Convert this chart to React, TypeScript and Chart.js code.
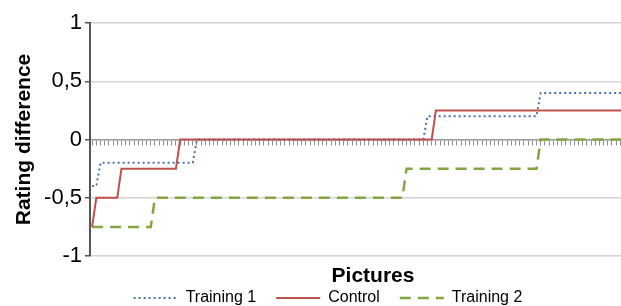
import { useEffect, useRef } from 'react';
import { Chart, registerables } from 'chart.js';

Chart.register(...registerables);

const FONT = "'Liberation Sans', Arial, Helvetica, sans-serif";

// 135 pictures on the category axis
const pictures: string[] = Array.from({ length: 135 }, (_, i) => String(i + 1));

const training1: number[] = [
  -0.4, -0.4, -0.2, -0.2, -0.2, -0.2, -0.2, -0.2, -0.2, -0.2,
  -0.2, -0.2, -0.2, -0.2, -0.2, -0.2, -0.2, -0.2, -0.2, -0.2,
  -0.2, -0.2, -0.2, -0.2, -0.2, 0, 0, 0, 0, 0,
  0, 0, 0, 0, 0, 0, 0, 0, 0, 0,
  0, 0, 0, 0, 0, 0, 0, 0, 0, 0,
  0, 0, 0, 0, 0, 0, 0, 0, 0, 0,
  0, 0, 0, 0, 0, 0, 0, 0, 0, 0,
  0, 0, 0, 0, 0, 0, 0, 0, 0, 0,
  0.2, 0.2, 0.2, 0.2, 0.2, 0.2, 0.2, 0.2, 0.2, 0.2,
  0.2, 0.2, 0.2, 0.2, 0.2, 0.2, 0.2, 0.2, 0.2, 0.2,
  0.2, 0.2, 0.2, 0.2, 0.2, 0.2, 0.2, 0.4, 0.4, 0.4,
  0.4, 0.4, 0.4, 0.4, 0.4, 0.4, 0.4, 0.4, 0.4, 0.4,
  0.4, 0.4, 0.4, 0.4, 0.4, 0.4, 0.4, 0.4, 0.4, 0.4,
  0.4, 0.4, 0.4, 0.4, 0.4,
];

const control: number[] = [
  -0.75, -0.5, -0.5, -0.5, -0.5, -0.5, -0.5, -0.25, -0.25, -0.25,
  -0.25, -0.25, -0.25, -0.25, -0.25, -0.25, -0.25, -0.25, -0.25, -0.25,
  -0.25, 0, 0, 0, 0, 0, 0, 0, 0, 0,
  0, 0, 0, 0, 0, 0, 0, 0, 0, 0,
  0, 0, 0, 0, 0, 0, 0, 0, 0, 0,
  0, 0, 0, 0, 0, 0, 0, 0, 0, 0,
  0, 0, 0, 0, 0, 0, 0, 0, 0, 0,
  0, 0, 0, 0, 0, 0, 0, 0, 0, 0,
  0, 0, 0.25, 0.25, 0.25, 0.25, 0.25, 0.25, 0.25, 0.25,
  0.25, 0.25, 0.25, 0.25, 0.25, 0.25, 0.25, 0.25, 0.25, 0.25,
  0.25, 0.25, 0.25, 0.25, 0.25, 0.25, 0.25, 0.25, 0.25, 0.25,
  0.25, 0.25, 0.25, 0.25, 0.25, 0.25, 0.25, 0.25, 0.25, 0.25,
  0.25, 0.25, 0.25, 0.25, 0.25, 0.25, 0.25, 0.25, 0.25, 0.25,
  0.25, 0.25, 0.25, 0.25, 0.25,
];

const training2: number[] = [
  -0.75, -0.75, -0.75, -0.75, -0.75, -0.75, -0.75, -0.75, -0.75, -0.75,
  -0.75, -0.75, -0.75, -0.75, -0.75, -0.5, -0.5, -0.5, -0.5, -0.5,
  -0.5, -0.5, -0.5, -0.5, -0.5, -0.5, -0.5, -0.5, -0.5, -0.5,
  -0.5, -0.5, -0.5, -0.5, -0.5, -0.5, -0.5, -0.5, -0.5, -0.5,
  -0.5, -0.5, -0.5, -0.5, -0.5, -0.5, -0.5, -0.5, -0.5, -0.5,
  -0.5, -0.5, -0.5, -0.5, -0.5, -0.5, -0.5, -0.5, -0.5, -0.5,
  -0.5, -0.5, -0.5, -0.5, -0.5, -0.5, -0.5, -0.5, -0.5, -0.5,
  -0.5, -0.5, -0.5, -0.5, -0.5, -0.25, -0.25, -0.25, -0.25, -0.25,
  -0.25, -0.25, -0.25, -0.25, -0.25, -0.25, -0.25, -0.25, -0.25, -0.25,
  -0.25, -0.25, -0.25, -0.25, -0.25, -0.25, -0.25, -0.25, -0.25, -0.25,
  -0.25, -0.25, -0.25, -0.25, -0.25, -0.25, -0.25, 0, 0, 0,
  0, 0, 0, 0, 0, 0, 0, 0, 0, 0,
  0, 0, 0, 0, 0, 0, 0, 0, 0, 0,
  0, 0, 0, 0, 0,
];

const yTickValues: number[] = [-1, -0.5, 0, 0.5, 1];
const yTickLabels: string[] = ['-1', '-0,5', '0', '0,5', '1'];

export default function App() {
  const canvasRef = useRef<HTMLCanvasElement | null>(null);

  useEffect(() => {
    document.body.style.margin = '0';
    const canvas = canvasRef.current;
    if (!canvas) return;
    const chart = new Chart(canvas, {
      type: 'line',
      data: {
        labels: pictures,
        datasets: [
          {
            label: 'Training 1',
            data: training1,
            borderColor: '#4a72b0',
            backgroundColor: '#4a72b0',
            borderWidth: 2,
            borderDash: [2, 3],
            pointRadius: 0,
            tension: 0,
            order: 1,
          },
          {
            label: 'Control',
            data: control,
            borderColor: '#c0504d',
            backgroundColor: '#c0504d',
            borderWidth: 2,
            pointRadius: 0,
            tension: 0,
            order: 0,
          },
          {
            label: 'Training 2',
            data: training2,
            borderColor: '#84a543',
            backgroundColor: '#84a543',
            borderWidth: 2.5,
            borderDash: [11, 7],
            pointRadius: 0,
            tension: 0,
            order: 2,
          },
        ],
      },
      options: {
        animation: false,
        responsive: false,
        devicePixelRatio: 1,
        layout: { padding: { top: 23, right: 0, left: 0, bottom: -10 } },
        plugins: {
          tooltip: { enabled: false },
          legend: {
            position: 'bottom',
            labels: {
              usePointStyle: true,
              pointStyle: 'line',
              pointStyleWidth: 44,
              padding: 20,
              color: '#000',
              font: { family: FONT, size: 16 },
              sort: (a: any, b: any) => a.datasetIndex - b.datasetIndex,
              generateLabels: (c: any) => {
                const items = (Chart.defaults as any).plugins.legend.labels.generateLabels(c);
                items.forEach((it: any) => {
                  const ds: any = c.data.datasets[it.datasetIndex];
                  it.lineDash = ds.borderDash || [];
                  it.lineWidth = ds.borderWidth;
                  it.strokeStyle = ds.borderColor;
                  it.fillStyle = ds.borderColor;
                });
                return items;
              },
            },
          },
        },
        scales: {
          x: {
            type: 'category',
            position: { y: 0 },
            offset: true,
            ticks: { display: false },
            grid: {
              display: true,
              drawOnChartArea: false,
              drawTicks: true,
              tickLength: 5,
              tickColor: '#8f8f8f',
              tickWidth: 1,
              offset: false,
            },
            border: { display: true, color: '#9a9a9a', width: 1.5 },
          },
          xt: {
            type: 'category',
            labels: pictures,
            position: 'bottom',
            offset: true,
            ticks: { display: false },
            grid: { display: false },
            border: { display: false },
            title: {
              display: true,
              text: 'Pictures',
              color: '#000',
              font: { family: FONT, size: 21, weight: 'bold' },
              padding: { top: 0, bottom: -19 },
            },
            afterFit: (s: any) => {
              s.height = 14;
            },
          },
          y: {
            min: -1,
            max: 1,
            ticks: {
              stepSize: 0.5,
              color: '#000',
              padding: 3,
              font: { family: FONT, size: 22 },
              callback: (v: any) => {
                const idx = yTickValues.indexOf(Number(v));
                return idx >= 0 ? yTickLabels[idx] : '';
              },
            },
            grid: {
              color: '#d4d4d4',
              lineWidth: 1.5,
              tickColor: '#555555',
              tickLength: 5,
            },
            border: { display: true, color: '#555555', width: 2 },
            title: {
              display: true,
              text: 'Rating difference',
              color: '#000',
              font: { family: FONT, size: 21, weight: 'bold' },
              padding: { top: 12, bottom: 0 },
            },
            afterFit: (s: any) => {
              s.width = 90;
            },
          },
        },
      },
    } as any);
    return () => chart.destroy();
  }, []);

  return (
    <div style={{ width: 621, height: 306, overflow: 'hidden', position: 'relative' }}>
      <canvas ref={canvasRef} width={656} height={306} style={{ width: 656, height: 306, display: 'block' }} />
    </div>
  );
}
